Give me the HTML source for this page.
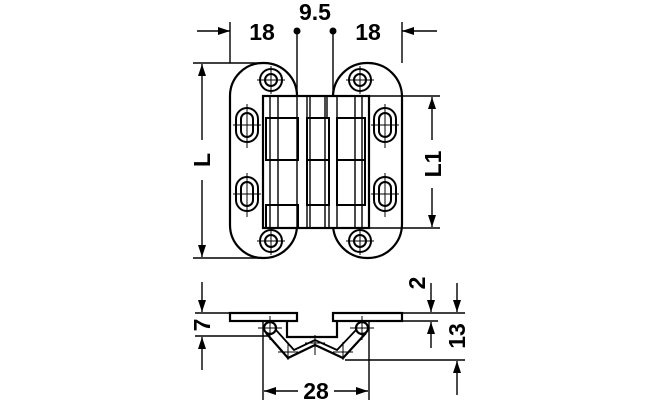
<!DOCTYPE html>
<html><head><meta charset="utf-8"><style>
html,body{margin:0;padding:0;background:#fff;}
svg{display:block}
text{font-family:"Liberation Sans",sans-serif;font-weight:bold;font-size:23px;fill:#000}
</style></head><body>
<svg width="659" height="400" viewBox="0 0 659 400" xmlns="http://www.w3.org/2000/svg">
<defs>
<marker id="a" markerWidth="12" markerHeight="8" refX="12" refY="4" orient="auto" markerUnits="userSpaceOnUse"><path d="M0,0 L12,4 L0,8 z" fill="#000"/></marker>
</defs>
<g fill="none" stroke="#000" stroke-width="1.4">
<rect x="230" y="63" width="67" height="195" rx="33" ry="33" stroke-width="2.2"/>
<rect x="333" y="63" width="69" height="195" rx="34" ry="34" stroke-width="2.2"/>
<rect x="263" y="96" width="106" height="132" fill="#fff" stroke-width="2.2"/>
<line x1="270" y1="96" x2="270" y2="228"/><line x1="278" y1="96" x2="278" y2="228"/>
<line x1="297" y1="96" x2="297" y2="228"/>
<line x1="310" y1="96" x2="310" y2="228"/><line x1="325" y1="96" x2="325" y2="228"/>
<line x1="337" y1="96" x2="337" y2="228"/><line x1="355" y1="96" x2="355" y2="228"/><line x1="362" y1="96" x2="362" y2="228"/>
<rect x="266" y="118" width="32" height="42" stroke-width="2"/><rect x="266" y="205" width="32" height="23" stroke-width="2"/>
<rect x="307" y="96" width="20" height="22"/><rect x="307" y="118" width="22" height="42" stroke-width="2"/><rect x="307" y="160" width="22" height="45" stroke-width="2"/><rect x="307" y="205" width="22" height="23"/>
<rect x="337" y="118" width="28" height="42" stroke-width="2"/><rect x="337" y="160" width="28" height="45" stroke-width="2"/>
<line x1="266" y1="160" x2="298" y2="160"/><line x1="337" y1="205" x2="365" y2="205"/>
<g stroke-width="2">
<circle cx="271" cy="80" r="11"/><circle cx="271" cy="80" r="6"/>
<circle cx="360" cy="80" r="11"/><circle cx="360" cy="80" r="6"/>
<circle cx="271" cy="241" r="11"/><circle cx="271" cy="241" r="6"/>
<circle cx="360" cy="241" r="11"/><circle cx="360" cy="241" r="6"/>
<rect x="236" y="108" width="22" height="34" rx="11"/><rect x="241" y="113" width="12" height="24" rx="6"/>
<rect x="236" y="177" width="22" height="34" rx="11"/><rect x="241" y="182" width="12" height="24" rx="6"/>
<rect x="374" y="108" width="22" height="34" rx="11"/><rect x="379" y="113" width="12" height="24" rx="6"/>
<rect x="374" y="177" width="22" height="34" rx="11"/><rect x="379" y="182" width="12" height="24" rx="6"/>
</g>
<path d="M257,80h28M271,66v28M346,80h28M360,66v28M257,241h28M271,227v28M346,241h28M360,227v28" stroke-width="1"/>
<path d="M233,125h28M247,104v44M233,194h28M247,173v44M371,125h28M385,104v44M371,194h28M385,173v44" stroke-width="1"/>
<line x1="230" y1="22" x2="230" y2="63"/><line x1="402" y1="22" x2="402" y2="63"/>
<line x1="197" y1="31" x2="230" y2="31" marker-end="url(#a)"/>
<line x1="437" y1="31" x2="402" y2="31" marker-end="url(#a)"/>
<line x1="297" y1="31" x2="297" y2="96"/><line x1="333" y1="31" x2="333" y2="96"/>
<line x1="193" y1="63" x2="262" y2="63"/><line x1="193" y1="258" x2="262" y2="258"/>
<line x1="202" y1="140" x2="202" y2="64" marker-end="url(#a)"/>
<line x1="202" y1="180" x2="202" y2="257" marker-end="url(#a)"/>
<line x1="369" y1="96" x2="440" y2="96"/><line x1="369" y1="228" x2="440" y2="228"/>
<line x1="432" y1="140" x2="432" y2="97" marker-end="url(#a)"/>
<line x1="432" y1="188" x2="432" y2="227" marker-end="url(#a)"/>
<rect x="230" y="313" width="67" height="8" stroke-width="2.2"/>
<rect x="333" y="313" width="69" height="8" stroke-width="2.2"/>
<path d="M287,321v16h50v-16" stroke-width="2.2"/>
<circle cx="270" cy="328" r="6" stroke-width="2.2"/>
<circle cx="362" cy="328" r="6" stroke-width="2.2"/>
<path d="M266,333 L288,358 L315,345 L343,358 L366,333" stroke-width="2.2"/>
<path d="M276,330 L294,350 L315,340 L337,350 L356,330" stroke-width="1.8"/>
<path d="M258,328h24M270,316v24M350,328h24M362,316v24M278,352h20M288,342v18M333,352h20M343,342v18M305,343h20M315,335v20" stroke-width="1"/>
<line x1="195" y1="313" x2="230" y2="313"/><line x1="195" y1="336" x2="270" y2="336"/>
<line x1="202" y1="282" x2="202" y2="312" marker-end="url(#a)"/>
<line x1="202" y1="370" x2="202" y2="337" marker-end="url(#a)"/>
<line x1="402" y1="313" x2="465" y2="313"/><line x1="402" y1="321" x2="438" y2="321"/>
<line x1="345" y1="360" x2="465" y2="360"/>
<line x1="431" y1="283" x2="431" y2="312" marker-end="url(#a)"/>
<line x1="431" y1="348" x2="431" y2="322" marker-end="url(#a)"/>
<line x1="457" y1="283" x2="457" y2="312" marker-end="url(#a)"/>
<line x1="457" y1="395" x2="457" y2="361" marker-end="url(#a)"/>
<line x1="263" y1="322" x2="263" y2="400"/><line x1="369" y1="322" x2="369" y2="400"/>
<line x1="298" y1="391" x2="264" y2="391" marker-end="url(#a)"/>
<line x1="334" y1="391" x2="368" y2="391" marker-end="url(#a)"/>
</g>
<circle cx="297" cy="31" r="3.5"/><circle cx="333" cy="31" r="3.5"/>
<text x="315" y="20" text-anchor="middle">9.5</text>
<text x="262" y="40" text-anchor="middle">18</text>
<text x="368" y="40" text-anchor="middle">18</text>
<text transform="translate(210,160) rotate(-90)" text-anchor="middle">L</text>
<rect x="420" y="142" width="24" height="44" fill="#fff"/>
<text transform="translate(441,164) rotate(-90)" text-anchor="middle">L1</text>
<text transform="translate(210,325) rotate(-90)" text-anchor="middle">7</text>
<text transform="translate(425,283) rotate(-90)" text-anchor="middle">2</text>
<text transform="translate(465,336) rotate(-90)" text-anchor="middle">13</text>
<text x="316" y="399" text-anchor="middle">28</text>
</svg>
</body></html>
